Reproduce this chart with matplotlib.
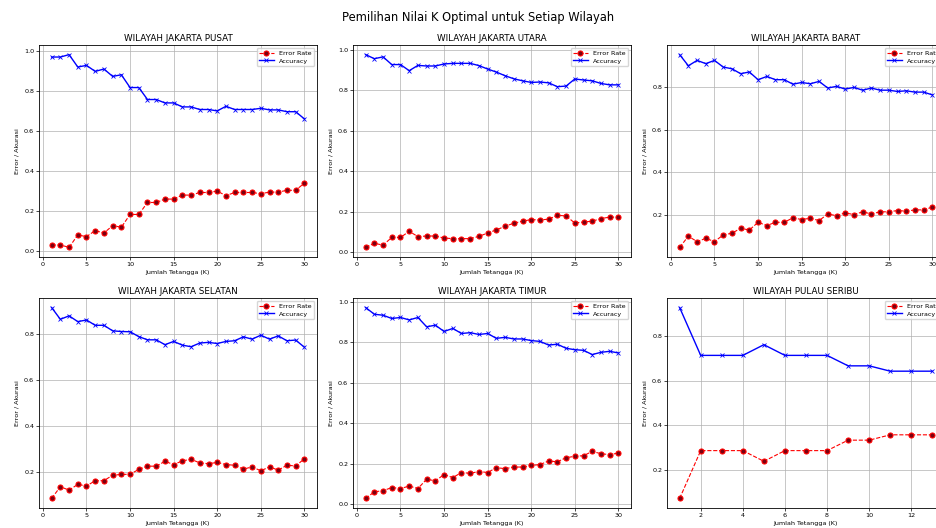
"""Pemilihan nilai K optimal per wilayah: error rate vs accuracy (crop of a 2x3 grid)."""

import matplotlib
matplotlib.use("Agg")
import matplotlib.pyplot as plt

# ---------------------------------------------------------------- data
REGIONS = [
    "WILAYAH JAKARTA PUSAT", "WILAYAH JAKARTA UTARA", "WILAYAH JAKARTA BARAT",
    "WILAYAH JAKARTA SELATAN", "WILAYAH JAKARTA TIMUR", "WILAYAH PULAU SERIBU",
]

k_30 = list(range(1, 31))
k_seribu = list(range(1, 14))

err_pusat = [0.029, 0.029, 0.017, 0.079, 0.071, 0.101, 0.089, 0.126, 0.118, 0.182,
             0.182, 0.242, 0.242, 0.259, 0.259, 0.279, 0.279, 0.292, 0.292, 0.299,
             0.276, 0.292, 0.292, 0.292, 0.286, 0.294, 0.294, 0.303, 0.303, 0.339]
acc_pusat = [0.971, 0.971, 0.983, 0.921, 0.929, 0.899, 0.911, 0.874, 0.882, 0.818,
             0.818, 0.758, 0.758, 0.741, 0.741, 0.721, 0.721, 0.708, 0.708, 0.701,
             0.724, 0.708, 0.708, 0.708, 0.714, 0.706, 0.706, 0.697, 0.697, 0.661]

err_utara = [0.025, 0.045, 0.036, 0.074, 0.074, 0.104, 0.078, 0.081, 0.081, 0.071,
             0.068, 0.068, 0.068, 0.079, 0.096, 0.111, 0.129, 0.144, 0.154, 0.162,
             0.160, 0.164, 0.183, 0.180, 0.145, 0.150, 0.154, 0.167, 0.174, 0.174]
acc_utara = [0.975, 0.955, 0.964, 0.926, 0.926, 0.896, 0.922, 0.919, 0.919, 0.929,
             0.932, 0.932, 0.932, 0.921, 0.904, 0.889, 0.871, 0.856, 0.846, 0.838,
             0.840, 0.836, 0.817, 0.820, 0.855, 0.850, 0.846, 0.833, 0.826, 0.826]

err_barat = [0.050, 0.102, 0.077, 0.092, 0.077, 0.108, 0.116, 0.139, 0.131, 0.167,
             0.152, 0.167, 0.167, 0.188, 0.180, 0.186, 0.175, 0.206, 0.198, 0.211,
             0.203, 0.216, 0.206, 0.216, 0.216, 0.222, 0.219, 0.225, 0.225, 0.238]
acc_barat = [0.950, 0.898, 0.923, 0.908, 0.923, 0.892, 0.884, 0.861, 0.869, 0.833,
             0.848, 0.833, 0.833, 0.812, 0.820, 0.814, 0.825, 0.794, 0.802, 0.789,
             0.797, 0.784, 0.794, 0.784, 0.784, 0.778, 0.781, 0.775, 0.775, 0.762]

err_selatan = [0.086, 0.137, 0.122, 0.147, 0.140, 0.163, 0.163, 0.187, 0.190, 0.191,
               0.212, 0.226, 0.226, 0.247, 0.233, 0.249, 0.256, 0.240, 0.237, 0.242,
               0.233, 0.230, 0.213, 0.223, 0.206, 0.223, 0.209, 0.230, 0.227, 0.258]
acc_selatan = [0.914, 0.863, 0.878, 0.853, 0.860, 0.837, 0.837, 0.813, 0.810, 0.809,
               0.788, 0.774, 0.774, 0.753, 0.767, 0.751, 0.744, 0.760, 0.763, 0.758,
               0.767, 0.770, 0.787, 0.777, 0.794, 0.777, 0.791, 0.770, 0.773, 0.742]

err_timur = [0.029, 0.062, 0.067, 0.083, 0.078, 0.090, 0.078, 0.124, 0.116, 0.147,
             0.132, 0.157, 0.153, 0.162, 0.157, 0.181, 0.176, 0.184, 0.184, 0.192,
             0.196, 0.214, 0.210, 0.230, 0.237, 0.240, 0.261, 0.250, 0.245, 0.253]
acc_timur = [0.971, 0.938, 0.933, 0.917, 0.922, 0.910, 0.922, 0.876, 0.884, 0.853,
             0.868, 0.843, 0.847, 0.838, 0.843, 0.819, 0.824, 0.816, 0.816, 0.808,
             0.804, 0.786, 0.790, 0.770, 0.763, 0.760, 0.739, 0.750, 0.755, 0.747]

err_seribu = [0.071, 0.286, 0.286, 0.286, 0.238, 0.286, 0.286, 0.286, 0.333, 0.333,
              0.357, 0.357, 0.357]
acc_seribu = [0.929, 0.714, 0.714, 0.714, 0.762, 0.714, 0.714, 0.714, 0.667, 0.667,
              0.643, 0.643, 0.643]

K_VALUES = [k_30, k_30, k_30, k_30, k_30, k_seribu]
ERRORS = [err_pusat, err_utara, err_barat, err_selatan, err_timur, err_seribu]
ACCURACIES = [acc_pusat, acc_utara, acc_barat, acc_selatan, acc_timur, acc_seribu]

# ---------------------------------------------------------------- layout (px)
W, H = 936, 528
COL_LEFT = [39, 353, 667]
AX_W = 278
ROW_TB = [(45, 257), (298, 508)]  # (top, bottom)
SMALL = 4.6


def ax_rect(row, col):
    top, bottom = ROW_TB[row]
    return [COL_LEFT[col] / W, 1 - bottom / H, AX_W / W, (bottom - top) / H]


def main():
    fig = plt.figure(figsize=(W / 100, H / 100), dpi=100)
    for i, name in enumerate(REGIONS):
        ax = fig.add_axes(ax_rect(i // 3, i % 3))
        ks = K_VALUES[i]
        ax.plot(ks, ERRORS[i], color="red", ls="--", lw=0.8, marker="o",
                ms=3.6, mfc="#7a0010", mec="red", mew=0.8, label="Error Rate")
        ax.plot(ks, ACCURACIES[i], color="blue", ls="-", lw=1.0, marker="x",
                ms=2.5, mew=0.6, label="Accuracy")
        ax.set_title(name, fontsize=6.3, pad=3)
        ax.set_xlabel("Jumlah Tetangga (K)", fontsize=SMALL, labelpad=2)
        ax.set_ylabel("Error / Akurasi", fontsize=SMALL, labelpad=3)
        ax.tick_params(labelsize=SMALL, length=2, width=0.5, pad=1.5)
        ax.grid(True, color="#b0b0b0", lw=0.5)
        for s in ax.spines.values():
            s.set_linewidth(0.6)
        # right column is cropped in the reference, legend included
        ax.legend(loc="upper right", fontsize=SMALL, handlelength=2.2,
                  borderpad=0.4, labelspacing=0.3, framealpha=0.8)
    fig.suptitle("Pemilihan Nilai K Optimal untuk Setiap Wilayah",
                 x=478 / W, y=1 - 18 / H, fontsize=8.3, va="center")
    fig.savefig("out.png", dpi=100)


if __name__ == "__main__":
    main()
